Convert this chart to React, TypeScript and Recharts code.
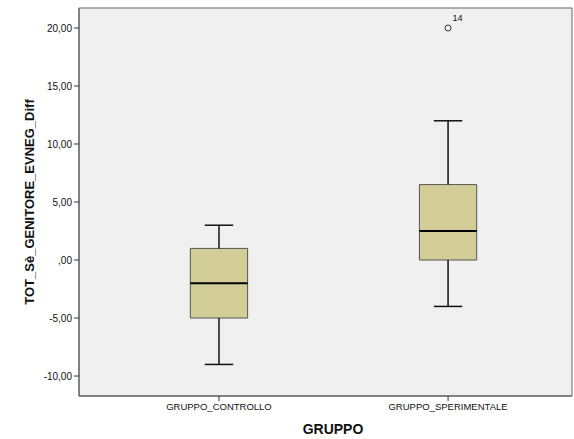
import React from 'react'
import { ComposedChart, XAxis, YAxis, ReferenceArea, ReferenceLine, Scatter, LabelList } from 'recharts'

const groups = ['GRUPPO_CONTROLLO', 'GRUPPO_SPERIMENTALE']
const whiskerLow = [-9, -4]
const q1 = [-5, 0]
const median = [-2, 2.5]
const q3 = [1, 6.5]
const whiskerHigh = [3, 12]
const outliers = [{ x: 2, y: 20, id: '14' }]
const yTicks = [-10, -5, 0, 5, 10, 15, 20]

const X_DOMAIN: [number, number] = [0.389, 2.541]
const Y_DOMAIN: [number, number] = [-11.72, 21.72]
const BOX_HALF = 0.125
const CAP_HALF = 0.062

const fmt = (v: number) => {
  if (v === 0) return ',00'
  return v.toFixed(2).replace('.', ',')
}

const YTitle = (props: any) => {
  const vb = props.viewBox || { x: 0, y: 8, width: 79, height: 388 }
  const cx = vb.x + 29
  const cy = vb.y + vb.height / 2
  return (
    <text
      x={cx}
      y={cy}
      transform={`rotate(-90, ${cx}, ${cy})`}
      textAnchor="middle"
      dominantBaseline="central"
      fontFamily="Liberation Sans, Arial, sans-serif"
      fontWeight="bold"
      fontSize={13}
      fill="#111"
    >
      TOT_Sè_GENITORE_EVNEG_Diff
    </text>
  )
}

const XTitle = (props: any) => {
  const vb = props.viewBox || { x: 79, y: 396, width: 493, height: 43 }
  return (
    <text
      x={333}
      y={vb.y + 33}
      textAnchor="middle"
      dominantBaseline="central"
      fontFamily="Liberation Sans, Arial, sans-serif"
      fontWeight="bold"
      fontSize={14}
      fill="#111"
    >
      GRUPPO
    </text>
  )
}

const Outlier = (props: any) => (
  <circle cx={props.cx} cy={props.cy} r={3} fill="none" stroke="#333" strokeWidth={1} />
)

export default function App() {
  return (
    <div style={{ position: 'absolute', left: 0, top: 0, background: '#fff' }}>
      <ComposedChart width={574} height={439} margin={{ top: 8, right: 2, left: 0, bottom: 0 }}>
        <XAxis
          type="number"
          dataKey="x"
          domain={X_DOMAIN}
          allowDataOverflow
          ticks={[1, 2]}
          tickFormatter={(v: number) => groups[v - 1]}
          height={43}
          tickSize={5}
          axisLine={{ stroke: '#555' }}
          tickLine={{ stroke: '#333' }}
          tick={{ fontSize: 9.5, fill: '#111', fontFamily: 'Liberation Sans, Arial, sans-serif' }}
          label={<XTitle />}
        />
        <YAxis
          type="number"
          dataKey="y"
          domain={Y_DOMAIN}
          allowDataOverflow
          ticks={yTicks}
          tickFormatter={fmt}
          width={79}
          tickSize={5}
          axisLine={{ stroke: '#555' }}
          tickLine={{ stroke: '#333' }}
          tick={{ fontSize: 10, fill: '#111', fontFamily: 'Liberation Sans, Arial, sans-serif' }}
          label={<YTitle />}
        />
        <ReferenceArea
          x1={X_DOMAIN[0]}
          x2={X_DOMAIN[1]}
          y1={Y_DOMAIN[0]}
          y2={Y_DOMAIN[1]}
          fill="#f0f0f0"
          fillOpacity={1}
          stroke="#666"
          strokeWidth={1}
        />
        {groups.map((g, i) => {
          const x = i + 1
          return (
            <React.Fragment key={g}>
              <ReferenceLine segment={[{ x, y: q3[i] }, { x, y: whiskerHigh[i] }]} stroke="#111" strokeWidth={1.5} />
              <ReferenceLine segment={[{ x, y: whiskerLow[i] }, { x, y: q1[i] }]} stroke="#111" strokeWidth={1.5} />
              <ReferenceLine segment={[{ x: x - CAP_HALF, y: whiskerHigh[i] }, { x: x + CAP_HALF, y: whiskerHigh[i] }]} stroke="#111" strokeWidth={1.5} />
              <ReferenceLine segment={[{ x: x - CAP_HALF, y: whiskerLow[i] }, { x: x + CAP_HALF, y: whiskerLow[i] }]} stroke="#111" strokeWidth={1.5} />
              <ReferenceArea x1={x - BOX_HALF} x2={x + BOX_HALF} y1={q1[i]} y2={q3[i]} fill="#d3ce97" fillOpacity={1} stroke="#555" strokeWidth={1} />
              <ReferenceLine segment={[{ x: x - BOX_HALF, y: median[i] }, { x: x + BOX_HALF, y: median[i] }]} stroke="#000" strokeWidth={2} />
            </React.Fragment>
          )
        })}
        <Scatter data={outliers} shape={<Outlier />} isAnimationActive={false}>
          <LabelList
            dataKey="id"
            content={(p: any) => (
              <text x={p.x + 9} y={p.y - 2} fontSize={9} fill="#111" fontFamily="Liberation Sans, Arial, sans-serif">
                {p.value}
              </text>
            )}
          />
        </Scatter>
      </ComposedChart>
    </div>
  )
}
